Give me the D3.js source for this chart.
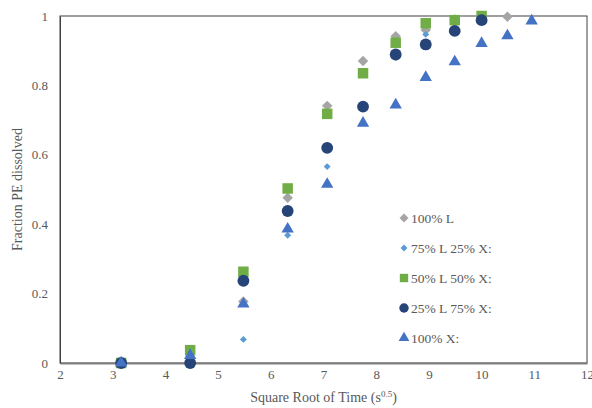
<!DOCTYPE html>
<html>
<head>
<meta charset="utf-8">
<script src="https://cdn.jsdelivr.net/npm/d3@7"></script>
<style>
  body { margin: 0; background: #fff; }
  text { font-family: "Liberation Serif", "Times New Roman", serif; fill: #595959; }
</style>
</head>
<body>
<div id="chart"></div>
<script>
// square root of time (s^0.5)
const xVals = [3.16, 4.47, 5.48, 6.32, 7.07, 7.75, 8.37, 8.94, 9.49, 10.0, 10.49, 10.95];

const seriesNames = ["100% L", "75% L 25% X:", "50% L 50% X:", "25% L 75% X:", "100% X:"];

// fraction dissolved, null where no point
const pure_L   = [0, 0, 0.177, 0.476, 0.741, 0.870, 0.942, 0.960, 0.990, 1.0, 0.998, null];
const l75_x25  = [0, 0, 0.068, 0.368, 0.566, 0.835, 0.880, 0.947, null, null, null, null];
const l50_x50  = [0, 0.037, 0.263, 0.503, 0.718, 0.835, 0.923, 0.979, 0.988, 1.0, null, null];
const l25_x75  = [0, 0, 0.237, 0.438, 0.620, 0.739, 0.889, 0.918, 0.957, 0.988, null, null];
const pure_X   = [0, 0.022, 0.170, 0.386, 0.515, 0.691, 0.744, 0.823, 0.868, 0.921, 0.943, 0.986];

const xTicks = [2, 3, 4, 5, 6, 7, 8, 9, 10, 11, 12];
const yTicks = [0, 0.2, 0.4, 0.6, 0.8, 1];

const width = 592, height = 408;
const margin = {top: 16, right: 5, bottom: 45, left: 60};

const svg = d3.select("#chart").append("svg")
    .attr("width", width)
    .attr("height", height);

const x = d3.scaleLinear().domain([2, 12]).range([margin.left, width - margin.right]);
const y = d3.scaleLinear().domain([0, 1]).range([height - margin.bottom, margin.top]);

// frame
svg.append("rect")
    .attr("x", x(2)).attr("y", y(1))
    .attr("width", x(12) - x(2)).attr("height", y(0) - y(1))
    .attr("fill", "none").attr("stroke", "#404040").attr("stroke-width", 1);

const xAxis = svg.append("g")
    .attr("transform", `translate(0,${y(0)})`)
    .call(d3.axisBottom(x).tickValues(xTicks).tickSize(0).tickPadding(7).tickFormat(d3.format("d")));
xAxis.select(".domain").attr("stroke", "#7f7f7f").attr("stroke-width", 2);
xAxis.selectAll("text").attr("font-size", 13).attr("fill", "#595959")
    .style("font-family", "Liberation Serif");

const yAxis = svg.append("g")
    .attr("transform", `translate(${x(2)},0)`)
    .call(d3.axisLeft(y).tickValues(yTicks).tickSize(0).tickPadding(12).tickFormat(d => d));
yAxis.select(".domain").attr("stroke", "#404040");
yAxis.selectAll("text").attr("font-size", 13).attr("fill", "#595959")
    .style("font-family", "Liberation Serif");

// axis titles
svg.append("text")
    .attr("x", (x(2) + x(12)) / 2).attr("y", 402)
    .attr("text-anchor", "middle").attr("font-size", 14)
    .text("Square Root of Time (s")
    .call(t => t.append("tspan").attr("dy", -5).attr("font-size", 9).text("0.5"))
    .call(t => t.append("tspan").attr("dy", 5).text(")"));

svg.append("text")
    .attr("transform", `translate(22,${(y(0) + y(1)) / 2}) rotate(-90)`)
    .attr("text-anchor", "middle").attr("font-size", 14)
    .text("Fraction PE dissolved");

// series styles (diamonds are squares turned 45 degrees, like Excel)
const styles = [
  {name: seriesNames[0], data: pure_L,  type: d3.symbolSquare,   rot: 45, size: 55,  legSize: 40, color: "#a5a5a5"},
  {name: seriesNames[1], data: l75_x25, type: d3.symbolSquare,   rot: 45, size: 24,  legSize: 24, color: "#5b9bd5"},
  {name: seriesNames[2], data: l50_x50, type: d3.symbolSquare,   rot: 0,  size: 110, legSize: 70, color: "#70ad47"},
  {name: seriesNames[3], data: l25_x75, type: d3.symbolCircle,   rot: 0,  size: 110, legSize: 70, color: "#264478"},
  {name: seriesNames[4], data: pure_X,  type: d3.symbolTriangle, rot: 0,  size: 66,  legSize: 50, color: "#4472c4"}
];

styles.forEach(s => {
  const pts = xVals.map((xv, i) => ({x: xv, y: s.data[i]})).filter(p => p.y !== null);
  svg.append("g").selectAll("path")
    .data(pts)
    .join("path")
      .attr("transform", d => `translate(${x(d.x)},${y(d.y)}) rotate(${s.rot})`)
      .attr("d", d3.symbol().type(s.type).size(s.size))
      .attr("fill", s.color);
});

// legend
const legendY = [218, 248, 278, 308, 338];
const legend = svg.append("g");
styles.forEach((s, i) => {
  const g = legend.append("g").attr("transform", `translate(404,${legendY[i]})`);
  g.append("path")
    .attr("transform", `rotate(${s.rot})`)
    .attr("d", d3.symbol().type(s.type).size(s.legSize))
    .attr("fill", s.color);
  g.append("text")
    .attr("x", 7).attr("dy", "0.35em")
    .attr("font-size", 13.5)
    .text(s.name);
});
</script>
</body>
</html>
